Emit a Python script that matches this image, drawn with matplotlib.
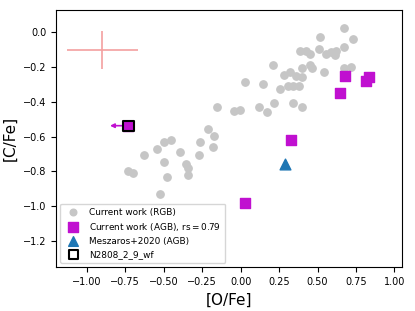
import matplotlib
matplotlib.use("Agg")
import matplotlib.pyplot as plt
import numpy as np

# RGB stars, current work
rgb_ofe = [-0.154, -0.046, -0.007, -0.213, -0.174, -0.262, -0.451, -0.501, -0.542,
           -0.392, -0.180, -0.273, -0.631, -0.501, -0.353, -0.343, -0.733, -0.701,
           -0.481, -0.340, -0.522, 0.670, 0.519, 0.731, 0.388, 0.427, 0.449, 0.509,
           0.558, 0.590, 0.618, 0.612, 0.670, 0.208, 0.449, 0.466, 0.401, 0.540,
           0.670, 0.720, 0.319, 0.282, 0.362, 0.401, 0.028, 0.148, 0.258, 0.308,
           0.340, 0.377, 0.119, 0.171, 0.217, 0.340, 0.401]
rgb_cfe = [-0.428, -0.453, -0.447, -0.558, -0.598, -0.629, -0.619, -0.629, -0.669,
           -0.688, -0.660, -0.707, -0.707, -0.748, -0.757, -0.779, -0.798, -0.807,
           -0.830, -0.821, -0.930, 0.023, -0.029, -0.039, -0.108, -0.108, -0.127,
           -0.098, -0.127, -0.112, -0.108, -0.131, -0.086, -0.188, -0.188, -0.207,
           -0.207, -0.228, -0.207, -0.198, -0.227, -0.246, -0.250, -0.259, -0.288,
           -0.299, -0.326, -0.309, -0.309, -0.309, -0.428, -0.457, -0.408, -0.408,
           -0.428]

# AGB stars, current work
agb_ofe = [0.677, 0.649, 0.813, 0.833, 0.330, 0.026, -0.729]
agb_cfe = [-0.250, -0.347, -0.280, -0.259, -0.619, -0.980, -0.537]

# Meszaros+2020 AGB
mes_ofe = [0.288]
mes_cfe = [-0.756]

# highlighted star (upper limit in O)
star_ofe = -0.729
star_cfe = -0.537
star_limit = 0.12

# typical error
err_x, err_y = -0.90, -0.10
err_dx, err_dy = 0.23, 0.11

magenta = "#c010d0"

fig = plt.figure(figsize=(4.15, 3.11), dpi=100)
ax = fig.add_axes([0.135, 0.141, 0.834, 0.828])

ax.errorbar(err_x, err_y, xerr=err_dx, yerr=err_dy, color="#f4a0a0", lw=1.2,
            capsize=0)
ax.scatter(rgb_ofe, rgb_cfe, s=28, color="#c6c6c6", label="Current work (RGB)",
           zorder=2)
ax.scatter(agb_ofe, agb_cfe, s=55, marker="s", color=magenta,
           label=r"Current work (AGB), rs$=$0.79", zorder=3)
ax.scatter(mes_ofe, mes_cfe, s=60, marker="^", color="#1f77b4",
           label="Meszaros+2020 (AGB)", zorder=3)
ax.annotate("", xy=(star_ofe - star_limit, star_cfe), xytext=(star_ofe, star_cfe),
            arrowprops=dict(arrowstyle="-|>", color=magenta, lw=1.2,
                            mutation_scale=6, shrinkA=0, shrinkB=0), zorder=3)
ax.scatter([star_ofe], [star_cfe], s=55, marker="s", facecolor="none",
           edgecolor="black", linewidth=1.5, label="N2808_2_9_wf", zorder=4)

ax.set_xlim(-1.2, 1.05)
ax.set_ylim(-1.35, 0.13)
ax.set_xticks(np.arange(-1.0, 1.01, 0.25))
ax.set_yticks(np.arange(-1.2, 0.01, 0.2))
ax.tick_params(labelsize=7)
ax.set_xlabel("[O/Fe]", fontsize=11)
ax.set_ylabel("[C/Fe]", fontsize=11)

ax.legend(loc="lower left", fontsize=6.4, handletextpad=0.8, borderpad=0.45,
          labelspacing=0.45, markerscale=0.9)

fig.savefig("out.png", dpi=100)
